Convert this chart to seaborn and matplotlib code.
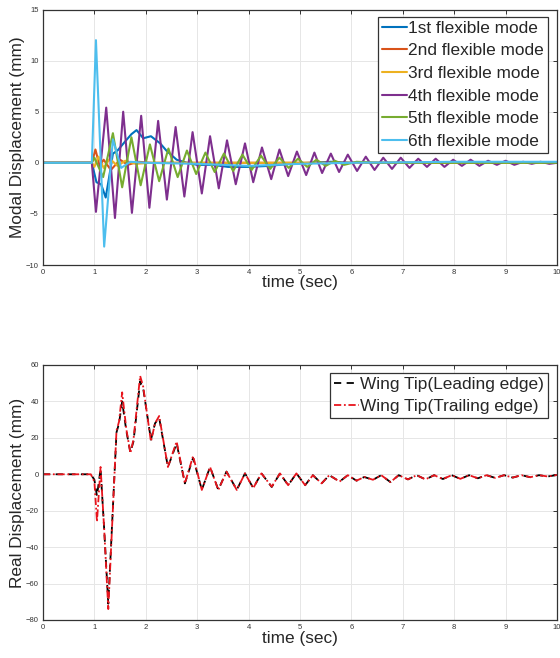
import numpy as np
import seaborn as sns
import matplotlib.pyplot as plt

# ---- modal displacement (mm) at local extrema ----
t_mode1 = [0, 0.95, 1.04, 1.13, 1.22, 1.30, 1.36, 1.45, 1.60, 1.72, 1.82, 1.95, 2.10, 2.28, 2.40, 2.60, 2.80, 3.00, 3.30, 3.60, 4.00, 4.40, 4.80, 5.20, 5.60, 6.00, 7.00, 8.00, 9.00, 10.0]
y_mode1 = [0, 0, -1.9, -2.1, -3.4, -1.0, 0.9, 1.2, 2.1, 2.8, 3.2, 2.4, 2.6, 1.9, 1.2, 0.3, 0.0, -0.2, -0.2, -0.4, -0.4, -0.3, -0.1, 0.0, 0.1, 0.0, 0.0, 0.0, 0.0, 0.0]

t_mode2 = [0, 0.95, 1.02, 1.10, 1.18, 1.32, 1.50, 1.65, 1.85, 2.10, 10.0]
y_mode2 = [0, 0, 1.3, -0.3, 0.3, -0.7, 0.3, -0.2, 0.1, 0.0, 0.0]

t_mode3 = [0, 0.95, 1.00, 1.08, 1.18, 1.30, 1.45, 1.60, 1.80, 2.10, 10.0]
y_mode3 = [0, 0, -0.4, 0.6, -0.5, 0.4, -0.3, 0.2, -0.1, 0.0, 0.0]

t_mode4 = [0, 0.95, 1.03, 1.23, 1.40, 1.56, 1.73, 1.91, 2.07, 2.24,
           2.41, 2.58, 2.75, 2.91, 3.09, 3.25, 3.42, 3.58, 3.75, 3.93,
           4.09, 4.26, 4.44, 4.60, 4.77, 4.94, 5.12, 5.28, 5.43, 5.60,
           5.76, 5.93, 6.11, 6.28, 6.45, 6.62, 6.79, 6.96, 7.13, 7.30,
           7.47, 7.64, 7.81, 7.98, 8.15, 8.32, 8.49, 8.66, 8.83, 9.00,
           9.17, 9.34, 9.51, 9.68, 9.85, 10.0]
y_mode4 = [0, 0, -4.8, 5.4, -5.4, 5.0, -4.9, 4.6, -4.4, 4.1,
           -3.6, 3.5, -3.3, 3.0, -3.0, 2.6, -2.5, 2.2, -2.1, 1.9,
           -1.9, 1.5, -1.6, 1.3, -1.3, 1.1, -1.2, 1.0, -1.0, 0.9,
           -0.9, 0.8, -0.8, 0.6, -0.7, 0.5, -0.6, 0.5, -0.5, 0.4,
           -0.4, 0.4, -0.4, 0.3, -0.3, 0.3, -0.3, 0.2, -0.2, 0.2,
           -0.2, 0.1, -0.1, 0.1, -0.1, 0.0]

t_mode5 = [0, 0.95, 1.00, 1.17, 1.36, 1.54, 1.72, 1.90, 2.08, 2.26,
           2.44, 2.62, 2.80, 2.98, 3.16, 3.34, 3.52, 3.70, 3.88, 4.06,
           4.24, 4.42, 4.60, 4.78, 4.96, 5.14, 5.32, 5.50, 5.68, 5.86,
           6.10, 6.50, 7.00, 8.00, 10.0]
y_mode5 = [0, 0, 0.5, -1.4, 2.9, -2.4, 2.5, -2.2, 1.8, -1.8,
           1.4, -1.4, 1.2, -1.1, 1.0, -0.9, 0.9, -0.8, 0.8, -0.7,
           0.7, -0.6, 0.5, -0.5, 0.4, -0.4, 0.3, -0.3, 0.2, -0.2,
           0.1, 0.0, 0.0, 0.0, 0.0]

t_mode6 = [0, 0.95, 1.03, 1.19, 1.36, 1.52, 1.70, 2.00, 3.00, 4.00, 5.00, 6.00, 8.00, 10.0]
y_mode6 = [0, 0, 12.0, -8.2, 2.3, -0.5, 0.1, 0.0, -0.1, -0.3, -0.1, 0.0, 0.1, 0.1]

mode_labels = ["1st flexible mode", "2nd flexible mode", "3rd flexible mode",
               "4th flexible mode", "5th flexible mode", "6th flexible mode"]

# ---- real displacement at the wing tip (mm) ----
t_tip = [0, 0.93, 1.00, 1.05, 1.12, 1.19, 1.27, 1.35, 1.43, 1.48,
         1.54, 1.62, 1.70, 1.76, 1.89, 1.95, 2.10, 2.18, 2.26, 2.43,
         2.60, 2.76, 2.92, 3.09, 3.25, 3.41, 3.57, 3.77, 3.93, 4.09,
         4.25, 4.45, 4.61, 4.77, 4.93, 5.10, 5.25, 5.42, 5.57, 5.77,
         5.93, 6.10, 6.25, 6.42, 6.58, 6.76, 6.92, 7.10, 7.27, 7.44,
         7.61, 7.78, 7.95, 8.12, 8.29, 8.46, 8.63, 8.80, 8.97, 9.14,
         9.31, 9.48, 9.65, 9.82, 10.0]
y_leading = [0, 0, -3, -12, 3, -30, -71, -24, 23, 28,
             40, 24, 12, 18, 51, 47, 19, 28, 31, 4,
             17, -5, 9, -8.5, 4, -8.5, 1.5, -8.5, 0.5, -7.5,
             0.5, -7, 0.5, -6, 0.5, -6, -0.5, -5, -0.5, -4,
             -0.5, -3.5, -1.5, -3, -0.5, -4.3, -0.5, -2.8, -0.5, -2.8,
             -0.5, -2.6, -0.5, -2.5, -0.5, -2.2, -0.5, -2, -0.5, -1.8,
             -0.5, -1.6, -0.5, -1.2, -0.4]
y_trailing = [0, 0, -4, -26, 4, -30, -74, -25, 24, 29,
              45, 25, 11.6, 19, 54, 48, 18, 28, 32, 4,
              18, -5, 10, -8.6, 4, -8.6, 1.4, -8.6, 0.5, -7.6,
              0.5, -6.8, 0.5, -6, 0.5, -6, -0.5, -5, -0.5, -4,
              -0.5, -3.5, -1.5, -3, -0.5, -4.3, -0.5, -2.8, -0.5, -2.8,
              -0.5, -2.6, -0.5, -2.5, -0.5, -2.2, -0.5, -2, -0.5, -1.8,
              -0.5, -1.6, -0.5, -1.2, -0.4]

matlab_colors = ["#0072BD", "#D95319", "#EDB120", "#7E2F8E", "#77AC30", "#4DBEEE"]

sns.set_style("white")
plt.rcParams['font.family'] = ['Liberation Sans', 'DejaVu Sans']

fig = plt.figure(figsize=(5.6, 6.58), dpi=100)
ax1 = fig.add_axes([43 / 560, 1 - 265 / 658, 514 / 560, 255.5 / 658])
ax2 = fig.add_axes([43 / 560, 1 - 620 / 658, 514 / 560, 255 / 658])

mode_t = [t_mode1, t_mode2, t_mode3, t_mode4, t_mode5, t_mode6]
mode_y = [y_mode1, y_mode2, y_mode3, y_mode4, y_mode5, y_mode6]
for tt, yy, col, lab in zip(mode_t, mode_y, matlab_colors, mode_labels):
    sns.lineplot(x=tt, y=yy, ax=ax1, color=col, lw=1.5, label=lab,
                 sort=False, estimator=None)

sns.lineplot(x=t_tip, y=y_leading, ax=ax2, color="black", lw=1.3,
             linestyle=(0, (4, 3)), label="Wing Tip(Leading edge)",
             sort=False, estimator=None)
sns.lineplot(x=t_tip, y=y_trailing, ax=ax2, color="#e8141c", lw=1.3,
             linestyle=(0, (4, 1.5, 1, 1.5)), label="Wing Tip(Trailing edge)",
             sort=False, estimator=None)

for ax, ylo, yhi, ystep in [(ax1, -10, 15, 5), (ax2, -80, 60, 20)]:
    ax.set_xlim(0, 10)
    ax.set_ylim(ylo, yhi)
    ax.set_xticks(range(0, 11))
    ax.set_yticks(np.arange(ylo, yhi + 1, ystep))
    ax.grid(True, color="#e6e6e6", lw=0.7)
    ax.set_axisbelow(True)
    ax.tick_params(direction="in", top=True, right=True, length=3, width=0.7,
                   labelsize=5.5, labelcolor="#333333", color="#333333", pad=3)
    for sp in ax.spines.values():
        sp.set_color("#333333")
        sp.set_linewidth(0.9)

ax1.set_xlabel("time (sec)", fontsize=12.4)
ax1.set_ylabel("Modal Displacement (mm)", fontsize=12.4)
ax1.xaxis.set_label_coords(0.5, -0.04)
ax1.yaxis.set_label_coords(-0.035, 0.5)

ax2.set_xlabel("time (sec)", fontsize=12.4)
ax2.set_ylabel("Real Displacement (mm)", fontsize=12.4)
ax2.xaxis.set_label_coords(0.5, -0.045)
ax2.yaxis.set_label_coords(-0.035, 0.5)

leg_kw = dict(fontsize=12.4, loc="upper right", borderaxespad=0, frameon=True,
              fancybox=False, framealpha=1, edgecolor="#333333",
              handlelength=1.45, handletextpad=0.1, borderpad=0.22,
              labelspacing=0.44)
leg1 = ax1.legend(bbox_to_anchor=(0.9825, 0.9706), **leg_kw)
leg2 = ax2.legend(bbox_to_anchor=(0.9825, 0.9686), **leg_kw)
for leg in (leg1, leg2):
    leg.get_frame().set_linewidth(0.9)

fig.savefig("out.png", dpi=100)
